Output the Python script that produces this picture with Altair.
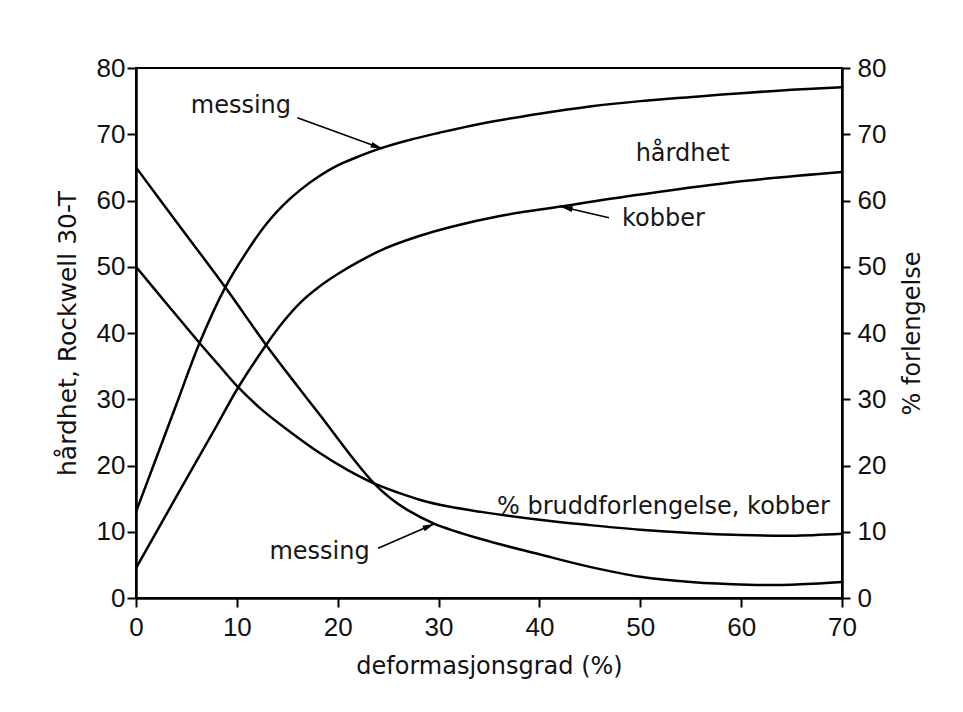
import math
import altair as alt
import pandas as pd

# ---- curve data ----
hard_messing_x = [0, 2, 4, 6.3, 8.85, 11.3, 13, 14.6, 16.3, 18, 20, 22, 24.3, 27, 30, 34.2, 40, 45, 50, 55.8, 60, 65, 70]
hard_messing_y = [13, 21.1, 29.2, 38.5, 46.9, 53, 56.6, 59.3, 61.6, 63.5, 65.3, 66.6, 67.9, 69.1, 70.2, 71.6, 73.1, 74.2, 75.0, 75.7, 76.2, 76.7, 77.1]

hard_kobber_x = [0, 4, 8, 10.1, 12.9, 14.6, 16.3, 18, 20, 22, 24.6, 28, 31.2, 36.2, 42.1, 50, 60, 70]
hard_kobber_y = [4.5, 15.3, 26.0, 31.7, 38.2, 41.7, 44.6, 46.8, 48.9, 50.7, 52.7, 54.6, 56.0, 57.7, 59.1, 60.9, 62.9, 64.3]

elong_messing_x = [0, 4, 8.85, 12.9, 16, 18.3, 21.6, 23.6, 25.2, 26.9, 29.6, 34.2, 40, 45, 50, 55, 60.7, 65, 70]
elong_messing_y = [65, 56.8, 46.9, 38.2, 32.0, 27.5, 20.9, 17.3, 15.1, 13.3, 11.2, 8.9, 6.6, 4.7, 3.2, 2.4, 2.0, 2.0, 2.4]

elong_kobber_x = [0, 3, 6.3, 8.35, 10.2, 12.5, 15, 18.3, 21, 23.6, 26, 28.2, 31, 34.2, 40, 45, 50, 55, 60, 65, 70]
elong_kobber_y = [50, 44.5, 38.5, 34.9, 31.7, 28.4, 25.4, 21.8, 19.3, 17.3, 15.9, 14.8, 13.8, 13.0, 11.8, 11.0, 10.3, 9.8, 9.5, 9.4, 9.7]

# ---- annotations ----
label_text = ["messing", "hårdhet", "kobber", "% bruddforlengelse, kobber", "messing"]
label_x = [10.4, 54.2, 52.3, 52.3, 18.2]
label_y = [74.2, 67.0, 57.2, 13.8, 7.0]

arrow_x1 = [16.0, 46.9, 24.0]
arrow_y1 = [72.5, 57.4, 7.5]
arrow_x2 = [24.45, 42.1, 29.6]
arrow_y2 = [67.8, 59.1, 11.2]

x_ticks = list(range(0, 71, 10))
y_ticks = list(range(0, 81, 10))

W, H = 706, 530

def series(name, xs, ys):
    return pd.DataFrame({"x": xs, "y": ys, "series": name})

hard_df = pd.concat([series("hard_messing", hard_messing_x, hard_messing_y),
                     series("hard_kobber", hard_kobber_x, hard_kobber_y)])
elong_df = pd.concat([series("elong_messing", elong_messing_x, elong_messing_y),
                      series("elong_kobber", elong_kobber_x, elong_kobber_y)])
text_df = pd.DataFrame({"x": label_x, "y": label_y, "t": label_text})
angles = []
for a, b, c, d in zip(arrow_x1, arrow_y1, arrow_x2, arrow_y2):
    dx = (c - a) * W / 70.0
    dy = -(d - b) * H / 80.0
    angles.append(math.degrees(math.atan2(dy, dx)) % 360)
arrow_df = pd.DataFrame({"x": arrow_x1, "y": arrow_y1, "x2": arrow_x2, "y2": arrow_y2, "ang": angles})

xscale = alt.Scale(domain=[0, 70], nice=False, zero=False)
def yscale():
    return alt.Scale(domain=[0, 80], nice=False, zero=False)

x_axis = alt.Axis(values=x_ticks, title="deformasjonsgrad (%)", grid=False, tickSize=9,
                  labelPadding=7, labelFlush=False, titleY=68, titleBaseline="middle")
X = alt.X("x:Q", scale=xscale, axis=x_axis)

left_axis = alt.Axis(values=y_ticks, title="hårdhet, Rockwell 30-T", grid=False, tickSize=9,
                     labelPadding=2, titleX=-69, titleY=H / 2, titleAngle=270, titleFontSize=25,
                     titleAlign="center", titleBaseline="middle")
right_axis = alt.Axis(values=y_ticks, title="% forlengelse", orient="right", grid=False, tickSize=8,
                      labelPadding=7, titleX=70, titleY=H / 2, titleAngle=270,
                      titleAlign="center", titleBaseline="middle")

hard = alt.Chart(hard_df).mark_line(color="black", strokeWidth=2.5, interpolate="catmull-rom").encode(
    x=X, y=alt.Y("y:Q", scale=yscale(), axis=left_axis), detail="series:N")
elong = alt.Chart(elong_df).mark_line(color="black", strokeWidth=2.5, interpolate="catmull-rom").encode(
    x=X, y=alt.Y("y:Q", scale=yscale(), axis=right_axis), detail="series:N")
texts = alt.Chart(text_df).mark_text(font="DejaVu Sans", fontSize=24, color="#161616",
                                     align="center", baseline="middle").encode(
    x=X, y=alt.Y("y:Q", scale=yscale(), axis=None), text="t:N")
rules = alt.Chart(arrow_df).mark_rule(color="black", strokeWidth=1.6).encode(
    x=X, y=alt.Y("y:Q", scale=yscale(), axis=None), x2="x2:Q", y2="y2:Q")
heads = alt.Chart(arrow_df).mark_point(shape="M0,0 L-2,-0.5 L-2,0.5 Z", filled=True, color="black",
                                       size=144, opacity=1).encode(
    x=alt.X("x2:Q", scale=xscale, axis=x_axis), y=alt.Y("y2:Q", scale=yscale(), axis=None),
    angle=alt.Angle("ang:Q", scale=None))

chart = alt.layer(hard, elong, texts, rules, heads).resolve_scale(y="independent").properties(
    width=W, height=H,
    autosize=alt.AutoSizeParams(type="none"),
    padding={"left": 128, "top": 60, "right": 100, "bottom": 100},
    background="white",
).configure_view(stroke="black", strokeWidth=2).configure_axis(
    domainColor="black", domainWidth=2.5, tickColor="black", tickWidth=2,
    labelFont="Liberation Sans", labelFontSize=26, labelColor="#111",
    titleFont="DejaVu Sans", titleFontSize=24, titleFontWeight="normal", titleColor="#111",
)

chart.save("out.html", embed_options={"renderer": "svg", "actions": False})
